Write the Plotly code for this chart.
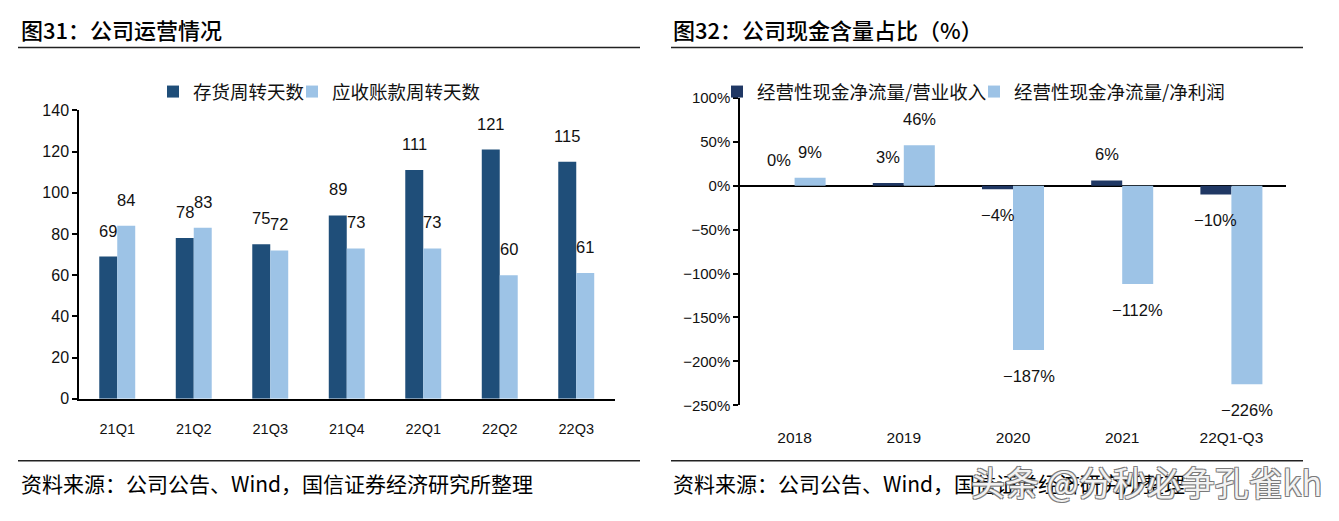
import plotly.graph_objects as go

# ---------------- data ----------------
quarters = ["21Q1", "21Q2", "21Q3", "21Q4", "22Q1", "22Q2", "22Q3"]
inventory_days = [69, 78, 75, 89, 111, 121, 115]
receivable_days = [84, 83, 72, 73, 73, 60, 61]
left_names = ["存货周转天数", "应收账款周转天数"]
left_ticks = [0, 20, 40, 60, 80, 100, 120, 140]

periods = ["2018", "2019", "2020", "2021", "22Q1-Q3"]
ocf_to_revenue = [0, 3, -4, 6, -10]
ocf_to_profit = [9, 46, -187, -112, -226]
right_names = ["经营性现金净流量/营业收入", "经营性现金净流量/净利润"]
right_ticks = [-250, -200, -150, -100, -50, 0, 50, 100]

title_left = "图31：公司运营情况"
title_right = "图32：公司现金含量占比（%）"
source_text = "资料来源：公司公告、Wind，国信证券经济研究所整理"
watermark = "头条 @分秒必争孔雀kh"

# ---------------- style ----------------
W, H = 1339, 521
DARK_L = "#1F4E79"
DARK_R = "#203864"
LIGHT = "#9DC3E6"
CJK = "Noto Sans CJK SC"
NUM = "Liberation Sans Narrow, Liberation Sans, Arial, sans-serif"


def px(x):
    return x / W


def py(y):
    return 1 - y / H


def pct(v):
    return f"{v}%".replace("-", "\u2212")


fig = go.Figure()

bw_l = 0.235
bw_r = 0.284

fig.add_trace(go.Bar(x=quarters, y=inventory_days, name=left_names[0], marker=dict(color=DARK_L, line=dict(width=0)),
                     width=bw_l, offset=-bw_l, xaxis="x", yaxis="y", legend="legend", hoverinfo="x+y"))
fig.add_trace(go.Bar(x=quarters, y=receivable_days, name=left_names[1], marker=dict(color=LIGHT, line=dict(width=0)),
                     width=bw_l, offset=0, xaxis="x", yaxis="y", legend="legend2", hoverinfo="x+y"))
fig.add_trace(go.Bar(x=periods, y=ocf_to_revenue, name=right_names[0], marker=dict(color=DARK_R, line=dict(width=0)),
                     width=bw_r, offset=-bw_r, xaxis="x2", yaxis="y2", legend="legend3", hoverinfo="x+y"))
fig.add_trace(go.Bar(x=periods, y=ocf_to_profit, name=right_names[1], marker=dict(color=LIGHT, line=dict(width=0)),
                     width=bw_r, offset=0, xaxis="x2", yaxis="y2", legend="legend4", hoverinfo="x+y"))

annotations = []
label_font = dict(family=NUM, size=16.5, color="#111")


def add_labels(cats, vals, xref, yref, xshift, fmt):
    # x given as category index (so numeric-looking categories such as "2018" stay categories)
    for i, v in enumerate(vals):
        annotations.append(dict(x=i, y=v, xref=xref, yref=yref, text=fmt(v), showarrow=False,
                                xanchor="center", yanchor="middle", xshift=xshift,
                                yshift=26 if v >= 0 else -26, font=label_font))


add_labels(quarters, inventory_days, "x", "y", -9, lambda v: f"{v}")
add_labels(quarters, receivable_days, "x", "y", 9, lambda v: f"{v}")
add_labels(periods, ocf_to_revenue, "x2", "y2", -15.5, pct)
add_labels(periods, ocf_to_profit, "x2", "y2", 15.5, pct)

# titles / sources
for xx, t in [(19, title_left), (671, title_right)]:
    annotations.append(dict(x=px(xx), y=py(21), xref="paper", yref="paper", text=t, showarrow=False,
                            xanchor="left", yanchor="middle",
                            font=dict(family=CJK, size=22, color="#000", weight=500)))
for xx in [19, 671]:
    annotations.append(dict(x=px(xx), y=py(491), xref="paper", yref="paper", text=source_text, showarrow=False,
                            xanchor="left", yanchor="middle", font=dict(family=CJK, size=21, color="#000")))
annotations.append(dict(x=px(969), y=py(489), xref="paper", yref="paper", text=watermark, showarrow=False,
                        xanchor="left", yanchor="middle",
                        font=dict(family=CJK, size=34, color="rgba(255,255,255,0.92)",
                                  shadow="-1px -1px 0 #777, 1px -1px 0 #777, -1px 1px 0 #777, 1px 1px 0 #777")))

shapes = []
for x0, x1 in [(18, 640), (671, 1303)]:
    for yy in [40, 468]:
        shapes.append(dict(type="line", xref="paper", yref="paper", x0=px(x0), x1=px(x1), y0=py(yy), y1=py(yy),
                           line=dict(color="#222", width=1.5)))

legfont = dict(family=CJK, size=18.5, color="#111")


def leg(xtext):
    return dict(x=px(xtext - 42), y=py(86), xanchor="left", yanchor="middle", orientation="h",
                bgcolor="rgba(0,0,0,0)", font=legfont, borderwidth=0, itemclick=False)


fig.update_layout(
    width=W, height=H, margin=dict(l=0, r=0, t=0, b=0),
    paper_bgcolor="white", plot_bgcolor="white",
    barmode="overlay", showlegend=True,
    xaxis=dict(domain=[px(79), px(614.5)], anchor="y", range=[-0.5, 6.5], type="category",
               showline=True, linecolor="#000", linewidth=1.5, ticks="", showgrid=False,
               tickfont=dict(family=NUM, size=14.5, color="#111"), ticklabelstandoff=16),
    yaxis=dict(domain=[py(403.7), py(105)], anchor="x", range=[0, 140], tickvals=left_ticks,
               showline=True, linecolor="#000", linewidth=1.5, ticks="outside", ticklen=5,
               tickcolor="#000", tickwidth=1.5, showgrid=False, zeroline=False,
               tickfont=dict(family=NUM, size=16, color="#111")),
    xaxis2=dict(domain=[px(740), px(1286)], anchor="y2", range=[-0.5, 4.5], type="category",
                showline=False, ticks="", showgrid=False,
                tickfont=dict(family=NUM, size=15.5, color="#111"), ticklabelstandoff=21),
    yaxis2=dict(domain=[py(410.5), py(92)], anchor="x2", range=[-250, 100], tickvals=right_ticks,
                ticktext=[pct(v) for v in right_ticks], showline=True, linecolor="#000", linewidth=1.5,
                ticks="outside", ticklen=5, tickcolor="#000", tickwidth=1.5, showgrid=False,
                zeroline=True, zerolinecolor="#000", zerolinewidth=1.5,
                tickfont=dict(family=NUM, size=15, color="#111")),
    legend=leg(195), legend2=leg(334), legend3=leg(759), legend4=leg(1016),
    annotations=annotations, shapes=shapes,
)

fig.write_html("out.html", config={"displayModeBar": False},
               post_script="document.body.style.margin='0px';")
